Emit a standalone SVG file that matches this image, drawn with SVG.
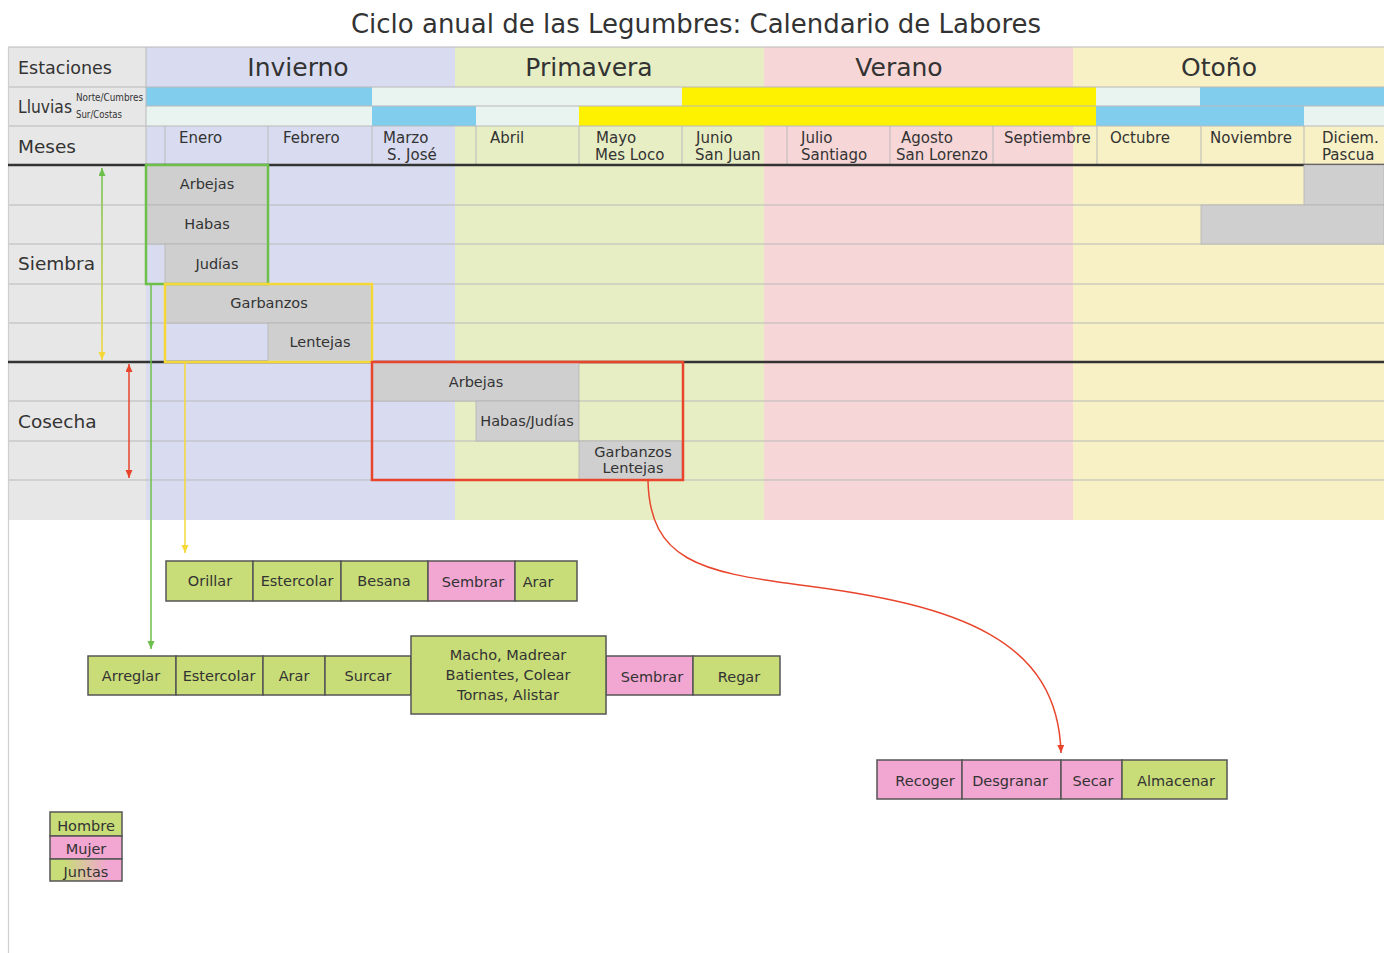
<svg xmlns="http://www.w3.org/2000/svg" width="1384" height="953" viewBox="0 0 1384 953">
<defs>
<style>
text{font-family:"DejaVu Sans","Liberation Sans",sans-serif;fill:#333}
.ttl{font-size:26px;text-anchor:middle}
.sea{font-size:25px;text-anchor:middle}
.hdr{font-size:17.5px}
.big{font-size:18.5px}
.mon{font-size:15px}
.grid{stroke:#b9b9b9;stroke-width:1;fill:none}
.thick{stroke:#333;stroke-width:2.5}
.gbox{fill:#cfcfcf;stroke:#b3b3b3;stroke-width:0.8}
.lbl{font-size:14.5px;text-anchor:middle}
.t{font-size:14.5px;text-anchor:middle}
.task{stroke:#555;stroke-width:1.5}
.h{fill:#c8dc78}
.m{fill:#f2a6d2}
.blue{fill:#80cdee}
.lite{fill:#e9f3ef}
.yel{fill:#fff200}
</style>
<marker id="aR" markerWidth="8" markerHeight="8" refX="8" refY="3.5" orient="auto-start-reverse" markerUnits="userSpaceOnUse"><path d="M0,0 L8,3.5 L0,7 z" fill="#e8452c"/></marker>
<marker id="aG" markerWidth="8" markerHeight="8" refX="8" refY="3.5" orient="auto-start-reverse" markerUnits="userSpaceOnUse"><path d="M0,0 L8,3.5 L0,7 z" fill="#6cc04a"/></marker>
<marker id="aY" markerWidth="8" markerHeight="8" refX="8" refY="3.5" orient="auto-start-reverse" markerUnits="userSpaceOnUse"><path d="M0,0 L8,3.5 L0,7 z" fill="#f5d838"/></marker>
<linearGradient id="gy" gradientUnits="userSpaceOnUse" x1="0" y1="168" x2="0" y2="360"><stop offset="0" stop-color="#6cc04a"/><stop offset="1" stop-color="#f5d838"/></linearGradient>
<linearGradient id="jt" x1="0" y1="0" x2="1" y2="0"><stop offset="0.2" stop-color="#c8dc78"/><stop offset="0.8" stop-color="#f2a6d2"/></linearGradient>
</defs>
<rect width="1384" height="953" fill="#fff"/>
<text class="ttl" x="696" y="33">Ciclo anual de las Legumbres: Calendario de Labores</text>

<g id="backgrounds">
<rect x="8" y="47" width="138" height="473" fill="#e7e7e7"/>
<rect x="146" y="47" width="309" height="473" fill="#d9dcf0"/>
<rect x="455" y="47" width="309" height="473" fill="#e8eec4"/>
<rect x="764" y="47" width="309" height="473" fill="#f6d6d6"/>
<rect x="1073" y="47" width="311" height="473" fill="#f8f1c6"/>
</g>

<g id="lluvias-bars">
<rect class="blue" x="146" y="87" width="226" height="19"/>
<rect class="lite" x="372" y="87" width="310" height="19"/>
<rect class="yel" x="682" y="87" width="414" height="19"/>
<rect class="lite" x="1096" y="87" width="104" height="19"/>
<rect class="blue" x="1200" y="87" width="184" height="19"/>
<rect class="lite" x="146" y="106" width="226" height="20"/>
<rect class="blue" x="372" y="106" width="104" height="20"/>
<rect class="lite" x="476" y="106" width="103" height="20"/>
<rect class="yel" x="579" y="106" width="517" height="20"/>
<rect class="blue" x="1096" y="106" width="208" height="20"/>
<rect class="lite" x="1304" y="106" width="80" height="20"/>
</g>

<g id="grid">
<path class="grid" d="M8,47H1384M8,87H1384M146,106H1384M8,126H1384M8,205H1384M8,244H1384M8,284H1384M8,323H1384M8,401H1384M8,441H1384M8,480H1384"/>
<path class="grid" d="M146,47V165M165,126V165M268,126V165M372,126V165M476,126V165M579,126V165M682,126V165M787,126V165M890,126V165M993,126V165M1097,126V165M1201,126V165M1304,126V165"/>
<path d="M8.5,47V953" stroke="#cfcfcf" stroke-width="1.2"/>
<line class="thick" x1="8" y1="165" x2="1384" y2="165"/>
<line class="thick" x1="8" y1="362" x2="1384" y2="362"/>
</g>

<g id="header-labels">
<text class="hdr" x="18" y="74">Estaciones</text>
<text class="big" x="18" y="113" textLength="54" lengthAdjust="spacingAndGlyphs">Lluvias</text>
<text x="76" y="101" font-size="10" textLength="67" lengthAdjust="spacingAndGlyphs">Norte/Cumbres</text>
<text x="76" y="118" font-size="10" textLength="46" lengthAdjust="spacingAndGlyphs">Sur/Costas</text>
<text class="big" x="18" y="153">Meses</text>
<text class="big" x="18" y="270">Siembra</text>
<text class="big" x="18" y="428">Cosecha</text>
<text class="sea" x="298" y="76">Invierno</text>
<text class="sea" x="589" y="76">Primavera</text>
<text class="sea" x="899" y="76">Verano</text>
<text class="sea" x="1219" y="76">Otoño</text>
</g>

<g id="months">
<text class="mon" x="179" y="143">Enero</text>
<text class="mon" x="283" y="143">Febrero</text>
<text class="mon" x="383" y="143">Marzo</text>
<text class="mon" x="387" y="160">S. José</text>
<text class="mon" x="490" y="143">Abril</text>
<text class="mon" x="596" y="143">Mayo</text>
<text class="mon" x="595" y="160">Mes Loco</text>
<text class="mon" x="696" y="143">Junio</text>
<text class="mon" x="695" y="160">San Juan</text>
<text class="mon" x="801" y="143">Julio</text>
<text class="mon" x="801" y="160">Santiago</text>
<text class="mon" x="901" y="143">Agosto</text>
<text class="mon" x="896" y="160">San Lorenzo</text>
<text class="mon" x="1004" y="143">Septiembre</text>
<text class="mon" x="1110" y="143">Octubre</text>
<text class="mon" x="1210" y="143">Noviembre</text>
<text class="mon" x="1322" y="143">Diciem.</text>
<text class="mon" x="1322" y="160">Pascua</text>
</g>

<g id="siembra">
<g id="s-arbejas"><rect class="gbox" x="146" y="165" width="122" height="40"/><text class="lbl" x="207" y="189">Arbejas</text></g>
<g id="s-habas"><rect class="gbox" x="146" y="205" width="122" height="39"/><text class="lbl" x="207" y="229">Habas</text></g>
<g id="s-judias"><rect class="gbox" x="165" y="244" width="103" height="40"/><text class="lbl" x="217" y="269">Judías</text></g>
<g id="s-garbanzos"><rect class="gbox" x="165" y="284" width="207" height="39"/><text class="lbl" x="269" y="308">Garbanzos</text></g>
<g id="s-lentejas"><rect class="gbox" x="268" y="323" width="104" height="39"/><text class="lbl" x="320" y="347">Lentejas</text></g>
<rect id="s-oto1" class="gbox" x="1304" y="165" width="80" height="40"/>
<rect id="s-oto2" class="gbox" x="1201" y="205" width="183" height="39"/>
<rect id="green-frame" x="146" y="165" width="122" height="119" fill="none" stroke="#6cc04a" stroke-width="2.5"/>
<rect id="yellow-frame" x="165" y="284" width="207" height="78" fill="none" stroke="#f5d838" stroke-width="2.5"/>
</g>

<g id="cosecha">
<g id="c-arbejas"><rect class="gbox" x="372" y="362" width="207" height="39"/><text class="lbl" x="476" y="387">Arbejas</text></g>
<g id="c-habas"><rect class="gbox" x="476" y="401" width="103" height="40"/><text class="lbl" x="527" y="426">Habas/Judías</text></g>
<g id="c-garb"><rect class="gbox" x="579" y="441" width="103" height="39"/><text class="lbl" x="633" y="457" font-size="14">Garbanzos</text><text class="lbl" x="633" y="473" font-size="14">Lentejas</text></g>
<rect id="red-frame" x="372" y="362" width="311" height="118" fill="none" stroke="#e8452c" stroke-width="2.5"/>
</g>

<g id="connectors" fill="none">
<line x1="102" y1="168" x2="102" y2="360" stroke="url(#gy)" stroke-width="1.5" marker-start="url(#aG)" marker-end="url(#aY)"/>
<line x1="129" y1="364" x2="129" y2="478" stroke="#e8452c" stroke-width="1.5" marker-start="url(#aR)" marker-end="url(#aR)"/>
<line x1="151" y1="284" x2="151" y2="649" stroke="#6cc04a" stroke-width="1.5" marker-end="url(#aG)"/>
<line x1="185" y1="363" x2="185" y2="553" stroke="#f5d838" stroke-width="1.5" marker-end="url(#aY)"/>
<path d="M648,481 C650,560 700,572 800,585 C960,605 1058,640 1061,753" stroke="#e8452c" stroke-width="1.5" marker-end="url(#aR)"/>
</g>

<g id="tareas-legumbres-1">
<g><rect class="task h" x="166" y="561" width="87" height="40"/><text class="t" x="210" y="586">Orillar</text></g>
<g><rect class="task h" x="253" y="561" width="88" height="40"/><text class="t" x="297" y="586">Estercolar</text></g>
<g><rect class="task h" x="341" y="561" width="87" height="40"/><text class="t" x="384" y="586">Besana</text></g>
<g><rect class="task m" x="428" y="561" width="87" height="40"/><text class="t" x="473" y="587">Sembrar</text></g>
<g><rect class="task h" x="515" y="561" width="62" height="40"/><text class="t" x="538" y="587">Arar</text></g>
</g>

<g id="tareas-legumbres-2">
<g><rect class="task h" x="88" y="656" width="88" height="39"/><text class="t" x="131" y="681">Arreglar</text></g>
<g><rect class="task h" x="176" y="656" width="87" height="39"/><text class="t" x="219" y="681">Estercolar</text></g>
<g><rect class="task h" x="263" y="656" width="62" height="39"/><text class="t" x="294" y="681">Arar</text></g>
<g><rect class="task h" x="325" y="656" width="86" height="39"/><text class="t" x="368" y="681">Surcar</text></g>
<g><rect class="task m" x="606" y="656" width="87" height="39"/><text class="t" x="652" y="682">Sembrar</text></g>
<g><rect class="task h" x="693" y="656" width="87" height="39"/><text class="t" x="739" y="682">Regar</text></g>
<g><rect class="task h" x="411" y="636" width="195" height="78"/><text class="t" x="508" y="660">Macho, Madrear</text><text class="t" x="508" y="680">Batientes, Colear</text><text class="t" x="508" y="700">Tornas, Alistar</text></g>
</g>

<g id="tareas-cosecha">
<g><rect class="task m" x="877" y="760" width="85" height="39"/><text class="t" x="925" y="786">Recoger</text></g>
<g><rect class="task m" x="962" y="760" width="99" height="39"/><text class="t" x="1010" y="786">Desgranar</text></g>
<g><rect class="task m" x="1061" y="760" width="61" height="39"/><text class="t" x="1093" y="786">Secar</text></g>
<g><rect class="task h" x="1122" y="760" width="105" height="39"/><text class="t" x="1176" y="786">Almacenar</text></g>
</g>

<g id="leyenda">
<g><rect class="task h" x="50" y="812" width="72" height="24"/><text class="t" x="86" y="831" font-size="15">Hombre</text></g>
<g><rect class="task m" x="50" y="836" width="72" height="23"/><text class="t" x="86" y="854" font-size="15">Mujer</text></g>
<g><rect class="task" fill="url(#jt)" x="50" y="859" width="72" height="22"/><text class="t" x="86" y="877" font-size="15">Juntas</text></g>
</g>
</svg>
